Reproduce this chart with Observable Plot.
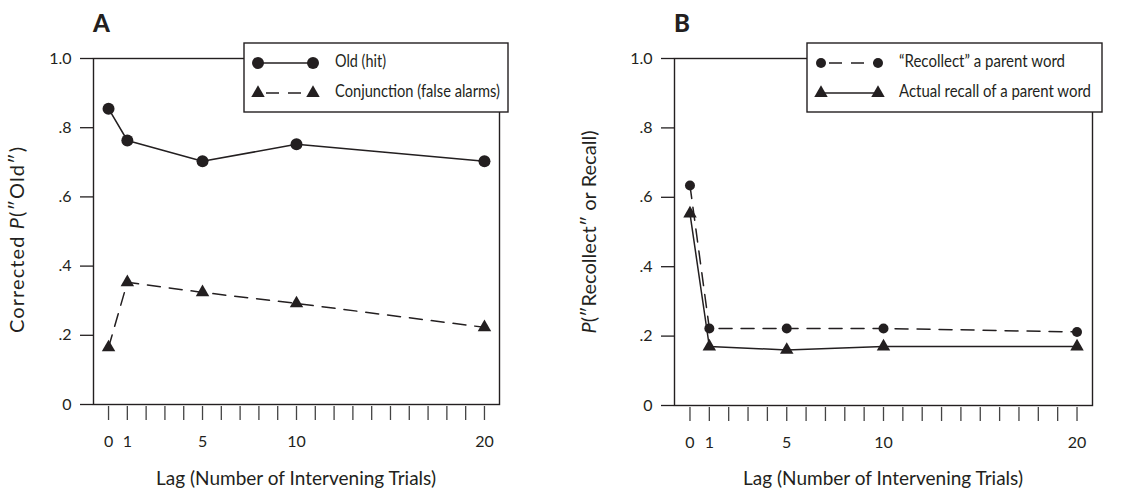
<!DOCTYPE html>
<html><head><meta charset="utf-8">
<script src="https://cdn.jsdelivr.net/npm/d3@7"></script>
<script src="https://cdn.jsdelivr.net/npm/@observablehq/plot@0.6"></script>
<style>
body{margin:0;background:#fff;}
#wrap{position:relative;width:1145px;height:491px;overflow:hidden;background:#fff;}
#wrap svg{position:absolute;top:0;}
</style></head><body><div id="wrap"></div>
<script>
const lags = [0, 1, 5, 10, 20];
const oldHit = [0.855, 0.763, 0.703, 0.752, 0.703];
const conjunctionFA = [0.165, 0.353, 0.324, 0.292, 0.223];
const recollectParent = [0.634, 0.222, 0.222, 0.222, 0.212];
const actualRecall = [0.553, 0.170, 0.160, 0.170, 0.170];
const yTicks = [0, 0.2, 0.4, 0.6, 0.8, 1.0];
const yTickLabels = ["0", ".2", ".4", ".6", ".8", "1.0"];
const xTicks = d3.range(0, 21);
const xTickLabels = [0, 1, 5, 10, 20];
const xTitle = "Lag (Number of Intervening Trials)";

const INK = "#231f20";
const FONT = "Lato, 'Open Sans', sans-serif";

function rows(values) { return lags.map((lag, i) => ({lag, v: values[i]})); }

function panel(o) {
  const marks = [
    Plot.axisY({ticks: yTicks, tickFormat: d => yTickLabels[yTicks.findIndex(t => Math.abs(t - d) < 1e-9)],
      tickSize: 13, tickPadding: 9, fontSize: 16, label: null, stroke: INK, strokeWidth: 1.3}),
    Plot.axisX({ticks: xTicks, tickFormat: d => xTickLabels.includes(d) ? String(d) : "",
      tickSize: 14, tickPadding: 15, dy: 2, fontSize: 16, label: null, stroke: "#444", strokeWidth: 1.3}),
    Plot.frame({stroke: INK, strokeWidth: 1.4})
  ];
  for (const s of o.series) {
    marks.push(Plot.line(rows(s.values), {x: "lag", y: "v", stroke: INK, strokeWidth: 1.5,
      strokeDasharray: s.dashed ? "13,9" : null}));
  }
  for (const s of o.series) {
    marks.push(Plot.dot(rows(s.values), {x: "lag", y: "v", symbol: s.symbol, r: s.r, fill: INK, stroke: "none"}));
  }
  const svg = Plot.plot({
    width: o.width, height: 491,
    marginLeft: o.ml, marginRight: o.mr, marginTop: 58, marginBottom: o.mb,
    x: {domain: [-0.8, 20.8], axis: null},
    y: {domain: [0, 1], axis: null},
    style: {fontFamily: FONT, color: INK, background: "transparent", overflow: "visible"},
    marks
  });
  svg.style.left = o.left + "px";
  const g = d3.select(svg);
  // panel letter
  g.append("text").attr("x", o.ml).attr("y", 32).attr("text-anchor", "start").attr("font-family", FONT)
    .attr("font-weight", 900).attr("font-size", 24).attr("fill", INK).text(o.letter);
  // y label
  const yl = g.append("text").attr("transform", `translate(19,${o.ylCenter}) rotate(-90)`)
    .attr("text-anchor", "middle").attr("dominant-baseline", "middle")
    .attr("font-family", FONT).attr("font-size", 20).attr("fill", INK)
    .attr("textLength", o.ylLen).attr("lengthAdjust", "spacing");
  for (const [t, it] of o.ylabel) yl.append("tspan").attr("font-style", it ? "italic" : null).text(t);
  // x label
  g.append("text").attr("x", o.ml + (o.width - o.ml - o.mr) / 2).attr("y", 485)
    .attr("text-anchor", "middle").attr("font-family", FONT).attr("font-size", 19).attr("fill", INK)
    .attr("textLength", 280).attr("lengthAdjust", "spacing").text(xTitle);
  // legend
  const L = o.legend;
  const lg = g.append("g").attr("transform", `translate(${L.x},43)`);
  lg.append("rect").attr("width", L.w).attr("height", 69).attr("fill", "#fff").attr("stroke", INK).attr("stroke-width", 1.4);
  o.series.forEach((s, i) => {
    const cy = 20 + i * 30;
    lg.append("line").attr("x1", 14).attr("x2", L.sx2).attr("y1", cy).attr("y2", cy)
      .attr("stroke", INK).attr("stroke-width", 1.5).attr("stroke-dasharray", s.dashed ? "13,9" : null)
      .attr("stroke-dashoffset", s.dashed ? -8 : null);
    const sym = d3.symbol(s.symbol === "circle" ? d3.symbolCircle : d3.symbolTriangle, Math.PI * s.r * s.r);
    for (const sx of [14, L.sx2]) {
      lg.append("path").attr("d", sym()).attr("transform", `translate(${sx},${cy})`).attr("fill", INK);
    }
    lg.append("text").attr("x", L.tx).attr("y", cy).attr("dominant-baseline", "middle").attr("text-anchor", "start")
      .attr("font-family", FONT).attr("font-size", 17).attr("fill", INK)
      .attr("textLength", s.len).attr("lengthAdjust", "spacingAndGlyphs").text(s.name);
  });
  document.getElementById("wrap").appendChild(svg);
}

panel({
  left: 0, width: 572, ml: 93, mr: 73, mb: 87, letter: "A",
  ylabel: [["Corrected ", false], ["P", true], ["(\u2033Old\u2033)", false]], ylCenter: 240, ylLen: 186,
  legend: {x: 244, w: 264, sx2: 69, tx: 91},
  series: [
    {name: "Old (hit)", values: oldHit, symbol: "circle", r: 6, dashed: false, len: 51},
    {name: "Conjunction (false alarms)", values: conjunctionFA, symbol: "triangle", r: 5, dashed: true, len: 165}
  ]
});
panel({
  left: 572, width: 573, ml: 102, mr: 53, mb: 86, letter: "B",
  ylabel: [["P", true], ["(\u2033Recollect\u2033 or Recall)", false]], ylCenter: 232, ylLen: 203,
  legend: {x: 235, w: 295, sx2: 71, tx: 92},
  series: [
    {name: "\u201CRecollect\u201D a parent word", values: recollectParent, symbol: "circle", r: 5, dashed: true, len: 166},
    {name: "Actual recall of a parent word", values: actualRecall, symbol: "triangle", r: 5, dashed: false, len: 192}
  ]
});
</script></body></html>
